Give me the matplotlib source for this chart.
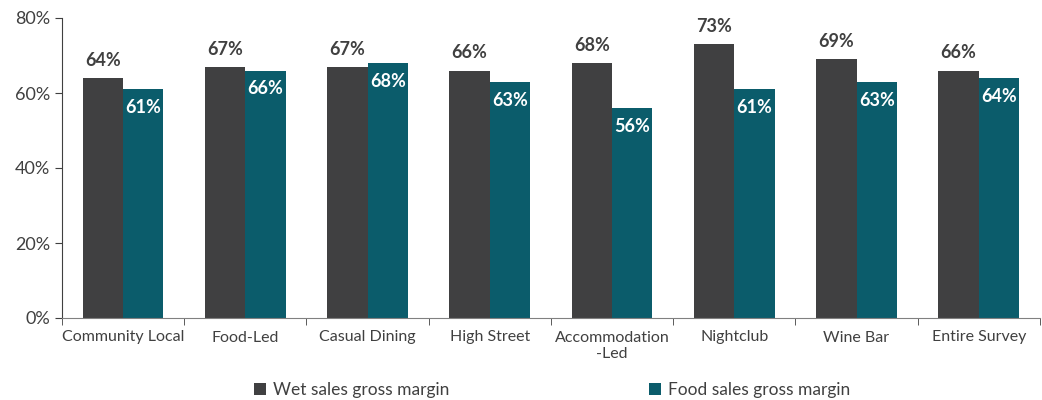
import matplotlib
matplotlib.use("Agg")
import matplotlib.pyplot as plt
import numpy as np

plt.rcParams['font.family'] = ['Lato', 'DejaVu Sans']

categories = ["Community Local", "Food-Led", "Casual Dining", "High Street",
              "Accommodation\n-Led", "Nightclub", "Wine Bar", "Entire Survey"]
wet_margin = [64, 67, 67, 66, 68, 73, 69, 66]
food_margin = [61, 66, 68, 63, 56, 61, 63, 64]
yticks = [0, 20, 40, 60, 80]

dark = "#404041"
teal = "#0b5c6b"
text_col = "#404040"

fig = plt.figure(figsize=(10.42, 4.0), dpi=100)
ax = fig.add_axes([0.0595, 0.205, 0.9385, 0.75])

x = np.arange(len(categories))
w = 0.33
wet_bars = ax.bar(x - w / 2, wet_margin, w, color=dark, label="Wet sales gross margin")
food_bars = ax.bar(x + w / 2, food_margin, w, color=teal, label="Food sales gross margin")

for b, v in zip(wet_bars, wet_margin):
    ax.text(b.get_x() + b.get_width() / 2, v + 2.4, f"{v}%", ha="center", va="bottom",
            fontsize=13, fontweight="bold", color=text_col)
for b, v in zip(food_bars, food_margin):
    ax.text(b.get_x() + b.get_width() / 2, v - 2.6, f"{v}%", ha="center", va="top",
            fontsize=13, fontweight="bold", color="white")

ax.set_xlim(-0.5, len(categories) - 0.5)
ax.set_ylim(0, 80)
ax.set_yticks(yticks)
ax.set_yticklabels([f"{t}%" for t in yticks], fontsize=13, color=text_col)

ax.set_xticks(x)
ax.set_xticklabels(categories, fontsize=11.5, color=text_col)
ax.tick_params(axis="x", which="major", length=0, pad=9)
ax.set_xticks(np.arange(len(categories) + 1) - 0.5, minor=True)
ax.tick_params(axis="x", which="minor", length=5, color="#404040")
ax.tick_params(axis="y", length=5, color="#404040")

for s in ["top", "right"]:
    ax.spines[s].set_visible(False)
ax.spines["left"].set_color("#404040")
ax.spines["bottom"].set_color("#808080")

fig.legend(handles=[wet_bars, food_bars], loc="lower center", ncol=2,
           bbox_to_anchor=(0.53, -0.035), frameon=False, fontsize=12.5,
           handlelength=0.7, handleheight=0.7, handletextpad=0.4,
           columnspacing=11.5, labelcolor=text_col)

fig.savefig("out.png", dpi=100)
